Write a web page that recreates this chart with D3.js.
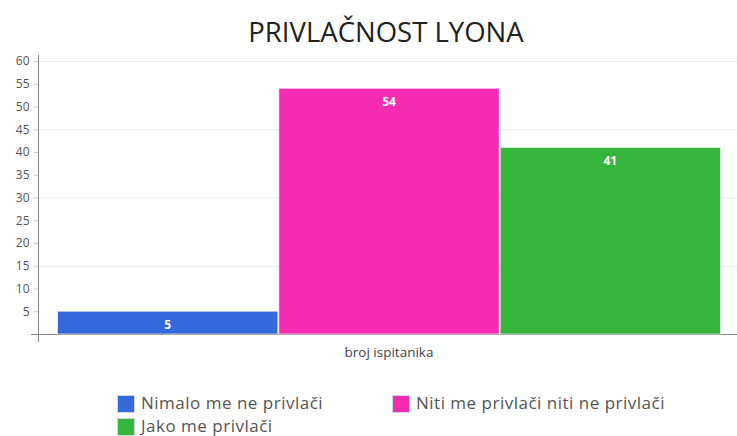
<!DOCTYPE html>
<html><head><meta charset="utf-8">
<script src="https://cdn.jsdelivr.net/npm/d3@7"></script>
<style>body{margin:0;background:#fff}svg{display:block}</style>
</head><body>
<svg id="c" width="737" height="436"></svg>
<script>
const categories = ["Nimalo me ne privlači", "Niti me privlači niti ne privlači", "Jako me privlači"];
const values = [5, 54, 41];
const colors = ["#3469db", "#f52cb2", "#36b53c"];
const groupLabel = ["broj ispitanika"];
const yTicks = [5,10,15,20,25,30,35,40,45,50,55,60];
const gridTicks = [15,30,45,60];
const title = "PRIVLAČNOST LYONA";

const svg = d3.select("#c");
const font = "'Open Sans', sans-serif";
const y = d3.scaleLinear().domain([0,60]).range([334,61]);
const x0 = d3.scaleBand().domain(groupLabel).range([57,721]).padding(0);
const x1 = d3.scaleBand().domain(categories).range([0, x0.bandwidth()]).padding(0);

// gridlines
svg.append("g").selectAll("line").data(gridTicks).join("line")
  .attr("x1",38).attr("x2",737).attr("y1",d=>y(d)+0.5).attr("y2",d=>y(d)+0.5)
  .attr("stroke","#ebebeb").attr("stroke-width",1);

// y axis
const yAxis = d3.axisLeft(y).tickValues(yTicks).tickSize(5).tickPadding(4).tickFormat(d3.format("d"));
const gy = svg.append("g").attr("transform","translate(38.5,0)").call(yAxis);
gy.select(".domain").remove();
gy.selectAll(".tick line").attr("stroke","#d0d0d0");
gy.selectAll("text").attr("fill","#555").attr("font-family",font).attr("font-size",12);
svg.append("line").attr("x1",38.5).attr("x2",38.5).attr("y1",55).attr("y2",342).attr("stroke","#888");
svg.append("line").attr("x1",31).attr("x2",737).attr("y1",334.5).attr("y2",334.5).attr("stroke","#888");

// bars
const g = svg.append("g").attr("transform",`translate(${x0(groupLabel[0])},0)`);
g.selectAll("rect").data(values).join("rect")
  .attr("x",(d,i)=>x1(categories[i])+0.5)
  .attr("y",d=>y(d))
  .attr("width",x1.bandwidth()-1)
  .attr("height",d=>y(0)-y(d))
  .attr("fill",(d,i)=>colors[i])
  .attr("stroke","rgba(255,255,255,0.6)").attr("stroke-width",1);
g.selectAll("text").data(values).join("text")
  .attr("x",(d,i)=>x1(categories[i])+x1.bandwidth()/2)
  .attr("y",d=>y(d)+18)
  .attr("text-anchor","middle").attr("fill","#fff")
  .attr("font-family",font).attr("font-weight","bold").attr("font-size",12)
  .text(d=>d);

// x label
svg.append("text").attr("x",x0(groupLabel[0])+x0.bandwidth()/2).attr("y",357)
  .attr("text-anchor","middle").attr("fill","#444").attr("font-family",font).attr("font-size",13.5)
  .text(groupLabel[0]);

// title
svg.append("text").attr("x",386).attr("y",42).attr("text-anchor","middle")
  .attr("fill","#222").attr("font-family",font).attr("font-size",27.5).text(title);

// legend
const legPos = [[117,395],[392,395],[117,418]];
const lg = svg.append("g");
categories.forEach((c,i)=>{
  lg.append("rect").attr("x",legPos[i][0]+0.5).attr("y",legPos[i][1]+0.5).attr("width",17).attr("height",17)
    .attr("fill",colors[i]).attr("stroke","#cfd8e8").attr("stroke-width",1);
  lg.append("text").attr("x",legPos[i][0]+24).attr("y",legPos[i][1]+13.5)
    .attr("fill","#555").attr("font-family",font).attr("font-size",17)
    .attr("letter-spacing",0.5).text(c);
});
</script>
</body></html>
